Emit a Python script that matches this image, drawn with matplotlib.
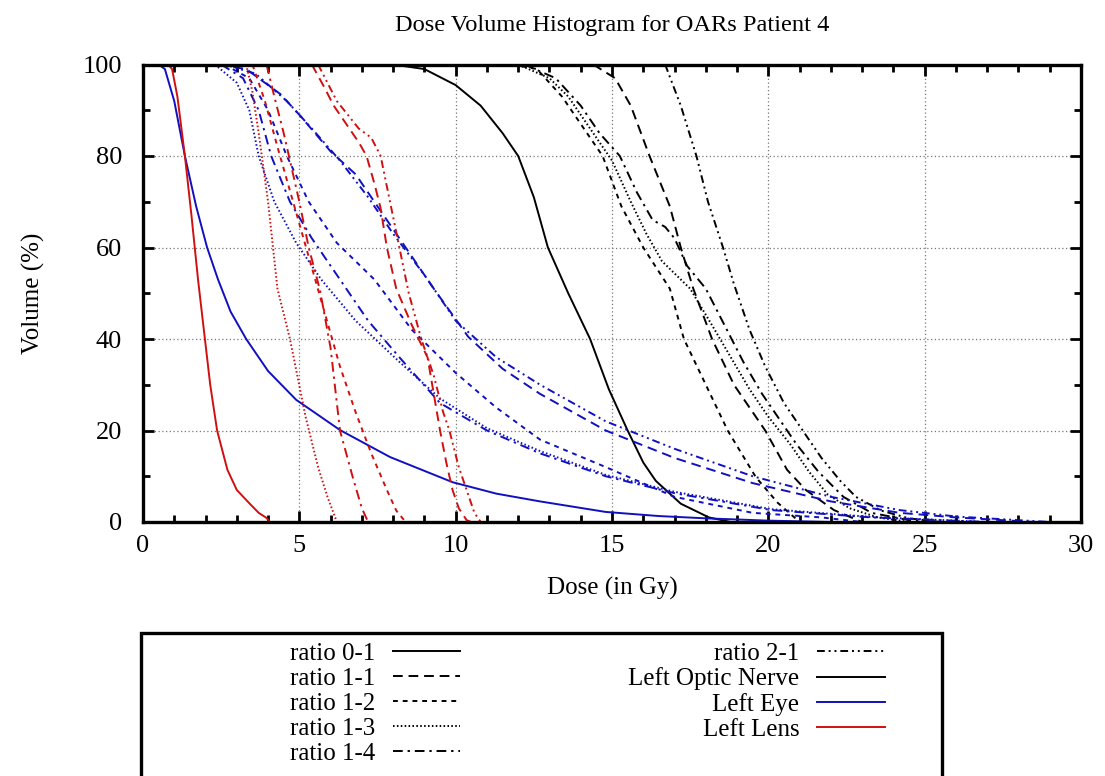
import matplotlib
matplotlib.use("Agg")
import matplotlib.pyplot as plt
from matplotlib.lines import Line2D
from matplotlib.patches import Rectangle
from matplotlib.ticker import MultipleLocator

plt.rcParams["font.family"] = ["Liberation Serif", "DejaVu Serif"]

# Left Optic Nerve (black)
nerve_01_x = [8.0, 9.0, 10.0, 10.8, 11.5, 12.0, 12.5, 12.95, 13.6, 14.3, 14.9, 15.5, 16.0, 16.4, 17.2, 18.1, 18.8]
nerve_01_y = [100, 99, 95.5, 91, 85, 80, 71, 60, 50, 40, 29, 20, 13, 9, 4, 1, 0]
nerve_11_x = [14.4, 15.1, 15.6, 16.2, 16.85, 17.2, 17.6, 18.2, 18.9, 19.9, 20.6, 21.2, 22.1, 23.0]
nerve_11_y = [100, 97, 91, 80, 69, 60, 51, 40, 30, 20, 11.4, 7, 2.6, 0]
nerve_12_x = [11.8, 12.6, 13.4, 14.1, 14.7, 15.3, 16.0, 16.85, 17.3, 18.0, 18.7, 19.6, 20.3, 21.0]
nerve_12_y = [100, 99, 93, 86, 80, 69, 60, 51, 40, 30, 20, 9.8, 4.2, 0]
nerve_13_x = [12.0, 13.0, 13.6, 14.3, 15.0, 15.6, 16.1, 16.6, 17.5, 18.2, 18.8, 19.4, 20.0, 20.7, 21.3, 21.9, 22.6, 23.5, 24.5]
nerve_13_y = [100, 97, 93, 86, 79, 70, 63, 57, 51, 43, 36, 29, 23, 17, 11, 6, 3, 1, 0]
nerve_14_x = [12.2, 13.2, 14.0, 14.6, 15.25, 15.8, 16.3, 16.7, 17.0, 17.4, 18.0, 18.6, 19.2, 19.8, 20.4, 20.9, 21.6, 22.4, 23.3, 24.5, 25.5]
nerve_14_y = [100, 97, 91, 85, 80, 72, 66, 64.5, 62, 56, 51, 43, 35, 28, 22, 17, 11, 5.5, 2, 0.4, 0]
nerve_21_x = [16.7, 17.2, 17.7, 18.07, 18.55, 18.9, 19.4, 19.9, 20.5, 21.1, 21.7, 22.3, 22.8, 23.6, 24.5, 25.5]
nerve_21_y = [100, 91, 80, 70, 60, 52, 42, 34, 26, 20, 14, 9, 5.5, 2.5, 0.8, 0]

# Left Eye (blue)
eye_01_x = [0.5, 0.7, 1.0, 1.34, 1.7, 2.05, 2.4, 2.8, 3.3, 4.0, 4.9, 6.3, 7.9, 9.9, 11.3, 12.7, 14.8, 16.5, 18.0, 20.0, 22.0]
eye_01_y = [100, 99, 92, 80, 69, 60, 53, 46, 40, 33, 26.7, 20.1, 14.2, 8.7, 6.2, 4.5, 2.2, 1.3, 0.8, 0.3, 0]
eye_11_x = [2.4, 3.3, 4.4, 5.0, 6.0, 6.8, 7.6, 8.4, 9.3, 10.4, 11.5, 12.7, 14.8, 17.0, 19.5, 22.0, 24.2, 26.0, 28.5]
eye_11_y = [100, 99, 93.5, 89, 81, 76, 68, 60, 51, 40.5, 33.5, 28, 20, 14, 8.5, 4.5, 2, 1, 0]
eye_12_x = [2.6, 3.4, 4.0, 4.6, 5.3, 6.2, 7.4, 8.6, 10.0, 11.3, 12.7, 14.8, 17.0, 19.5, 21.7, 23.0]
eye_12_y = [100, 97, 90, 80, 70, 61, 53, 42, 32.6, 25, 18, 12, 5.5, 2, 1, 0]
eye_13_x = [2.3, 3.0, 3.4, 3.7, 4.2, 4.9, 5.7, 6.8, 8.2, 9.5, 11.0, 12.7, 14.8, 17.0, 20.1, 23.3, 27.0]
eye_13_y = [100, 96, 90, 80, 70, 61, 53, 44, 35, 27, 20.5, 15.5, 10.3, 6.6, 2.8, 1.1, 0]
eye_14_x = [2.5, 3.2, 3.7, 4.1, 4.7, 5.4, 6.3, 7.2, 8.2, 9.5, 11.0, 12.7, 14.8, 17.0, 20.1, 23.3, 27.0]
eye_14_y = [100, 97, 90, 80, 70, 62, 53, 44, 36, 26, 20, 15, 10, 6.3, 2.6, 1, 0]
eye_21_x = [2.6, 3.6, 4.6, 5.4, 6.3, 7.2, 8.0, 9.0, 10.0, 11.3, 12.7, 14.8, 17.0, 19.5, 22.0, 24.2, 26.0, 29.0]
eye_21_y = [100, 98, 92, 86, 79, 71, 63, 54, 44, 36, 30, 22, 16, 10, 5.5, 2.6, 1.2, 0]

# Left Lens (red)
lens_01_x = [0.8, 0.93, 1.1, 1.34, 1.55, 1.76, 1.98, 2.15, 2.37, 2.7, 3.0, 3.4, 3.7, 3.95, 4.05]
lens_01_y = [100, 99, 93, 80, 67, 53, 40, 30, 20, 11.4, 7, 4.1, 2, 0.9, 0]
lens_11_x = [5.4, 5.8, 6.1, 6.9, 7.15, 7.4, 7.6, 7.8, 8.1, 8.6, 9.1, 9.3, 9.5, 9.7, 9.9, 10.1, 10.35, 10.5]
lens_11_y = [100, 95, 91, 83, 80, 74, 68.6, 60, 51, 43, 36, 28, 20, 13, 7, 3, 0.4, 0]
lens_12_x = [3.5, 3.9, 4.3, 4.8, 5.3, 5.8, 6.3, 6.8, 7.3, 7.8, 8.1, 8.4]
lens_12_y = [100, 92, 82, 70, 58, 46, 34, 24, 15, 7, 2.5, 0]
lens_13_x = [3.3, 3.5, 3.7, 4.0, 4.3, 4.7, 5.2, 5.6, 5.9, 6.2]
lens_13_y = [100, 94, 85, 70, 51, 40, 23, 12, 5.5, 0]
lens_14_x = [3.95, 4.2, 4.5, 5.0, 5.3, 5.66, 6.0, 6.3, 6.7, 7.0, 7.2]
lens_14_y = [100, 93, 85, 70, 60, 50.7, 38, 20, 10, 3, 0]
lens_21_x = [5.6, 6.2, 6.9, 7.3, 7.6, 7.9, 8.2, 8.5, 8.9, 9.3, 9.6, 9.8, 10.1, 10.4, 10.6, 10.8]
lens_21_y = [100, 92, 86, 84, 80, 70, 60, 50, 40, 32, 24, 20, 12, 6, 2, 0]

ratio_labels = ["ratio 0-1", "ratio 1-1", "ratio 1-2", "ratio 1-3", "ratio 1-4", "ratio 2-1"]
organ_labels = ["Left Optic Nerve", "Left Eye", "Left Lens"]
organ_colors = ["black", "#1010c0", "#d01010"]

# gnuplot-like dash types, one per ratio
dash_styles = [
    "-",
    (0, (5, 3)),
    (0, (2.5, 2.5)),
    (0, (0.8, 1.2)),
    (0, (5, 2.5, 1.2, 2.5)),
    (0, (4, 2, 1, 2, 1, 2)),
]

curves = [
    [(nerve_01_x, nerve_01_y), (nerve_11_x, nerve_11_y), (nerve_12_x, nerve_12_y),
     (nerve_13_x, nerve_13_y), (nerve_14_x, nerve_14_y), (nerve_21_x, nerve_21_y)],
    [(eye_01_x, eye_01_y), (eye_11_x, eye_11_y), (eye_12_x, eye_12_y),
     (eye_13_x, eye_13_y), (eye_14_x, eye_14_y), (eye_21_x, eye_21_y)],
    [(lens_01_x, lens_01_y), (lens_11_x, lens_11_y), (lens_12_x, lens_12_y),
     (lens_13_x, lens_13_y), (lens_14_x, lens_14_y), (lens_21_x, lens_21_y)],
]

fig = plt.figure(figsize=(11.05, 7.76), dpi=100)
ax = fig.add_axes([143 / 1105, 1 - 522 / 776, (1081 - 143) / 1105, (522 - 64.5) / 776])

for color, organ in zip(organ_colors, curves):
    for style, (x, y) in zip(dash_styles, organ):
        ax.plot(x, y, color=color, linestyle=style, linewidth=1.4)

ax.set_xlim(0, 30)
ax.set_ylim(0, 100)
ax.xaxis.set_major_locator(MultipleLocator(5))
ax.xaxis.set_minor_locator(MultipleLocator(1))
ax.yaxis.set_major_locator(MultipleLocator(20))
ax.yaxis.set_minor_locator(MultipleLocator(10))
ax.tick_params(which="both", direction="in", top=True, right=True, width=2, labelsize=19)
ax.tick_params(which="major", length=8)
ax.tick_params(which="minor", length=5)
ax.tick_params(axis="x", which="major", pad=9)
ax.tick_params(axis="y", which="major", pad=15)
ax.grid(True, which="major", linestyle=(0, (1, 2)), color="#777777", linewidth=0.9)
for s in ax.spines.values():
    s.set_linewidth(2.4)

ax.set_title("Dose Volume Histogram for OARs Patient 4", fontsize=17.6, pad=24)
ax.set_xlabel("Dose (in Gy)", fontsize=18, labelpad=15)
ax.set_ylabel("Volume (%)", fontsize=18, labelpad=27)

# legend: line types for ratios, colours for organs
handles = [Line2D([], [], color="black", linestyle=s, linewidth=1.4) for s in dash_styles]
handles += [Line2D([], [], color=c, linewidth=1.4) for c in organ_colors]
labels = ratio_labels + organ_labels
fig.add_artist(Rectangle((141 / 1105, -0.05), (942 - 141) / 1105, 0.05 + (776 - 633) / 776,
                         transform=fig.transFigure, fill=False, linewidth=2.4, edgecolor="black"))
fig.legend(handles, labels, ncols=2, loc="upper right", bbox_to_anchor=(897 / 1105, 1 - 630 / 776),
           frameon=False, markerfirst=False, fontsize=18, handlelength=2.7, handletextpad=0.7,
           columnspacing=6.73, labelspacing=0.1, borderpad=0)

fig.savefig("out.png", dpi=100)
